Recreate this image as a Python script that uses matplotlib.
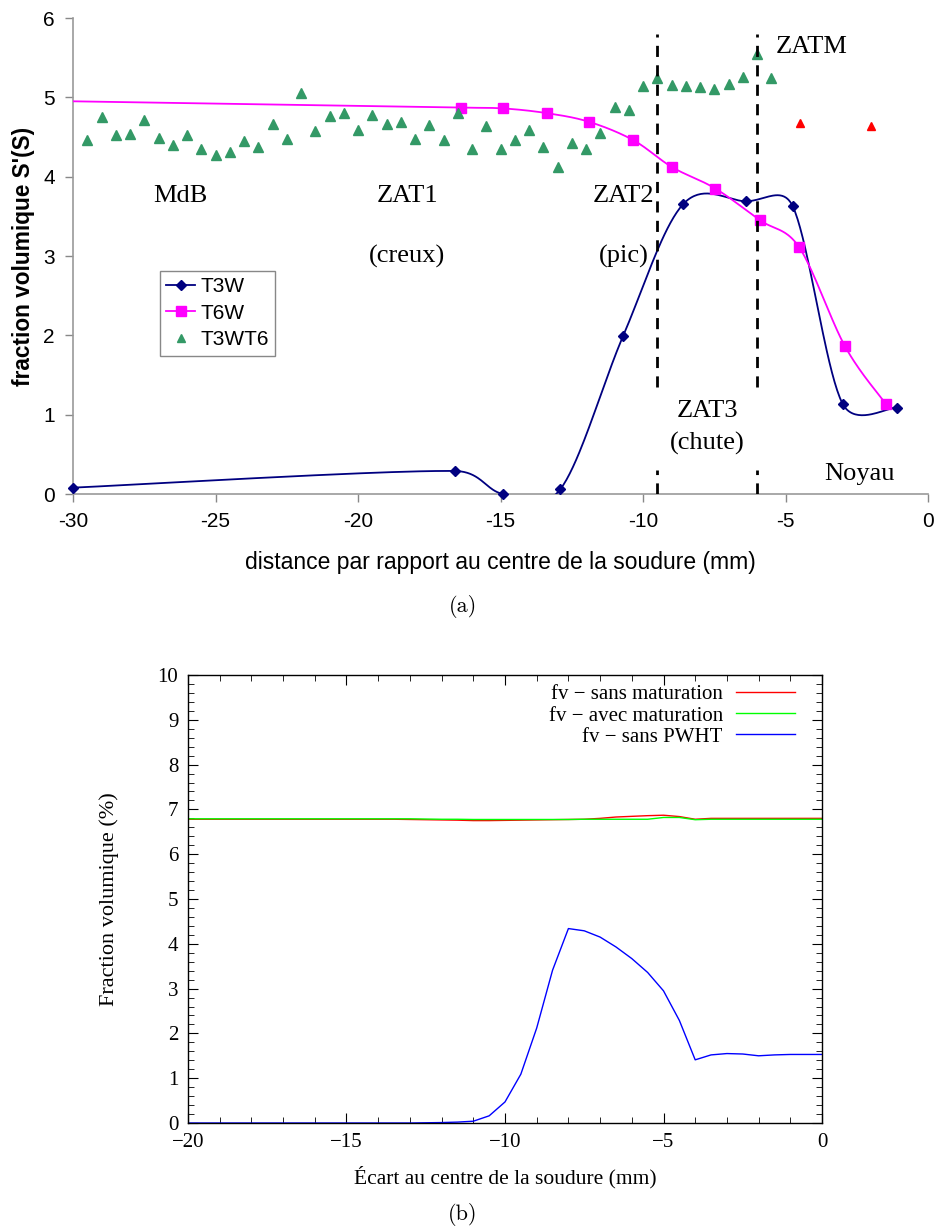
import numpy as np
import matplotlib
matplotlib.use("Agg")
import matplotlib.pyplot as plt
from matplotlib.lines import Line2D

# ---------------- data: chart (a) ----------------
t3w_x = [-30, -16.6, -14.9, -12.9, -10.7, -8.6, -6.4, -4.75, -3.0, -1.1]
t3w_y = [0.08, 0.29, 0.0, 0.06, 1.99, 3.65, 3.69, 3.63, 1.14, 1.09]

t6w_line_x = [-30, -16.4, -14.9, -13.36, -11.88, -10.34, -8.98, -7.46, -5.89, -4.52, -2.91, -1.49]
t6w_line_y = [4.95, 4.87, 4.86, 4.80, 4.69, 4.46, 4.12, 3.85, 3.45, 3.11, 1.86, 1.14]

t3wt6_x = [-29.5, -29.0, -28.5, -28.0, -27.5, -27.0, -26.5, -26.0, -25.5, -25.0,
           -24.5, -24.0, -23.5, -23.0, -22.5, -22.0, -21.5, -21.0, -20.5, -20.0,
           -19.5, -19.0, -18.5, -18.0, -17.5, -17.0, -16.5, -16.0, -15.5, -15.0,
           -14.5, -14.0, -13.5, -13.0, -12.5, -12.0, -11.5, -11.0, -10.5, -10.0,
           -9.5, -9.0, -8.5, -8.0, -7.5, -7.0, -6.5, -6.0, -5.5]
t3wt6_y = [4.46, 4.75, 4.53, 4.54, 4.72, 4.49, 4.40, 4.53, 4.35, 4.27,
           4.31, 4.45, 4.37, 4.67, 4.47, 5.06, 4.58, 4.76, 4.80, 4.59,
           4.78, 4.66, 4.69, 4.47, 4.65, 4.46, 4.80, 4.35, 4.64, 4.35,
           4.46, 4.59, 4.38, 4.12, 4.42, 4.35, 4.55, 4.88, 4.84, 5.14,
           5.24, 5.16, 5.14, 5.13, 5.10, 5.17, 5.26, 5.54, 5.25]

red_x = [-4.5, -2.0]
red_y = [4.68, 4.64]

zone_x = [-9.5, -6.0]

a_xticks = [-30, -25, -20, -15, -10, -5, 0]
a_xticklabels = ["-30", "-25", "-20", "-15", "-10", "-5", "0"]

# ---------------- data: chart (b) ----------------
b_x = [-20, -19.5, -19, -18.5, -18, -17.5, -17, -16.5, -16, -15.5, -15, -14.5, -14,
       -13.5, -13, -12.5, -12, -11.5, -11, -10.5, -10, -9.5, -9, -8.5, -8, -7.5,
       -7, -6.5, -6, -5.5, -5, -4.5, -4, -3.5, -3, -2.5, -2, -1.5, -1, -0.5, 0]
fv_sans_mat = [6.78, 6.78, 6.78, 6.78, 6.78, 6.78, 6.78, 6.78, 6.78, 6.78, 6.78, 6.78, 6.78,
               6.78, 6.775, 6.77, 6.765, 6.76, 6.75, 6.75, 6.755, 6.76, 6.765, 6.77, 6.775, 6.78,
               6.80, 6.83, 6.845, 6.86, 6.87, 6.84, 6.78, 6.80, 6.80, 6.80, 6.80, 6.80, 6.80, 6.80, 6.80]
fv_avec_mat = [6.79, 6.79, 6.79, 6.79, 6.79, 6.79, 6.79, 6.79, 6.79, 6.79, 6.79, 6.79, 6.79,
               6.79, 6.79, 6.785, 6.78, 6.78, 6.775, 6.775, 6.775, 6.775, 6.775, 6.775, 6.775, 6.78,
               6.78, 6.78, 6.78, 6.78, 6.82, 6.82, 6.77, 6.78, 6.78, 6.78, 6.78, 6.78, 6.78, 6.78, 6.78]
fv_sans_pwht = [0, 0, 0, 0, 0, 0, 0, 0, 0, 0, 0, 0, 0,
                0, 0, 0.005, 0.01, 0.02, 0.04, 0.16, 0.47, 1.09, 2.12, 3.41, 4.34, 4.29,
                4.15, 3.93, 3.67, 3.36, 2.95, 2.29, 1.41, 1.52, 1.55, 1.54, 1.50, 1.52, 1.53, 1.53, 1.53]
b_xticks = [-20, -15, -10, -5, 0]
b_xticklabels = ["\u221220", "\u221215", "\u221210", "\u22125", "0"]


def smooth(x, y, sx, sy, n=40, k=0.5):
    """Excel-like smoothed line (cubic Bezier, Catmull-Rom tangents)."""
    P = np.column_stack([np.asarray(x, float) * sx, np.asarray(y, float) * sy])
    m = len(P)
    pts = []
    tt = np.linspace(0, 1, n)[:, None]
    for i in range(m - 1):
        p0 = P[i - 1] if i > 0 else P[i]
        p1, p2 = P[i], P[i + 1]
        p3 = P[i + 2] if i + 2 < m else P[i + 1]
        seg = np.linalg.norm(p2 - p1)
        t1 = (p2 - p0) / 6.0
        t2 = (p3 - p1) / 6.0
        for t in (t1, t2):
            L = np.linalg.norm(t)
            if L > k * seg:
                t *= k * seg / L
        c1, c2 = p1 + t1, p2 - t2
        B = (1 - tt) ** 3 * p1 + 3 * (1 - tt) ** 2 * tt * c1 + 3 * (1 - tt) * tt ** 2 * c2 + tt ** 3 * p2
        pts.append(B if i == 0 else B[1:])
    pts = np.vstack(pts)
    return pts[:, 0] / sx, pts[:, 1] / sy


fig = plt.figure(figsize=(9.36, 12.30), dpi=100)

# ================= chart (a) =================
ax = fig.add_axes([73 / 936, 1 - 494 / 1230, 855 / 936, 476 / 1230])
SX, SY = 855 / 30, 476 / 6

navy = "#000080"
mag = "#FF00FF"
green = "#339966"

sx_, sy_ = smooth(t3w_x, t3w_y, SX, SY)
ax.plot(sx_, sy_, color=navy, lw=1.3, zorder=3)
ax.plot(t3w_x, t3w_y, ls="none", marker="D", ms=5, color=navy, zorder=4, clip_on=False)

sx6, sy6 = smooth(t6w_line_x, t6w_line_y, SX, SY)
ax.plot(sx6, sy6, color=mag, lw=1.3, zorder=3)
ax.plot(t6w_line_x[1:], t6w_line_y[1:], ls="none", marker="s", ms=7, color=mag, zorder=4)

ax.plot(t3wt6_x, t3wt6_y, ls="none", marker="^", ms=7, color=green, zorder=4)
ax.plot(red_x, red_y, ls="none", marker="^", ms=6, color="#FF0000", zorder=4)

ax.vlines(zone_x, 1.35, 5.8, colors="black", linestyles=(0, (4, 3)), lw=2, zorder=5)
ax.vlines(zone_x, 0, 0.3, colors="black", linestyles=(0, (4, 3)), lw=2, zorder=5)

ax.set_xlim(-30, 0)
ax.set_ylim(0, 6)
ax.set_xticks(a_xticks)
ax.set_xticklabels(a_xticklabels)
ax.set_yticks(range(0, 7))
for s in ("top", "right"):
    ax.spines[s].set_visible(False)
for s in ("left", "bottom"):
    ax.spines[s].set_color("#999999")
    ax.spines[s].set_linewidth(1.2)
ax.tick_params(direction="out", length=6, color="#888888", width=1,
               labelsize=15, pad=7)
for lab in ax.get_xticklabels() + ax.get_yticklabels():
    lab.set_fontfamily("Liberation Sans")

ax.text(-0.058, 0.5, "fraction volumique S'(S)", transform=ax.transAxes, rotation=90,
        ha="center", va="center", fontsize=16.3, fontweight="bold", family="Liberation Sans")
ax.text(0.5, -0.143, "distance par rapport au centre de la soudure (mm)", transform=ax.transAxes,
        ha="center", va="center", fontsize=16.5, family="Liberation Sans")

serif = dict(family="Liberation Serif", fontsize=19, ha="center", va="center")
ax.text(-26.25, 3.76, "MdB", **serif)
ax.text(-18.28, 3.76, "ZAT1", **serif)
ax.text(-18.28, 3.0, "(creux)", **serif)
ax.text(-10.67, 3.76, "ZAT2", **serif)
ax.text(-10.67, 3.0, "(pic)", **serif)
ax.text(-7.75, 1.05, "ZAT3", **serif)
ax.text(-7.75, 0.64, "(chute)", **serif)
ax.text(-4.1, 5.64, "ZATM", **serif)
ax.text(-2.42, 0.25, "Noyau", **serif)

handles = [
    Line2D([], [], color=navy, marker="D", ms=5, lw=1.3),
    Line2D([], [], color=mag, marker="s", ms=7, lw=1.3),
    Line2D([], [], color=green, marker="^", ms=6, ls="none"),
]
leg = ax.legend(handles, ["T3W", "T6W", "T3WT6"], loc="upper left",
                bbox_to_anchor=((160 - 73) / 855, (494 - 271) / 476), borderaxespad=0,
                fancybox=False, edgecolor="#888888", framealpha=1,
                prop={"family": "Liberation Sans", "size": 15},
                handlelength=1.4, handletextpad=0.25, labelspacing=0.36, borderpad=0.3)
leg.get_frame().set_linewidth(1.0)

fig.text(463 / 936, 1 - 607 / 1230, "(a)", ha="center", va="center", fontsize=16,
         family=["cmr10", "DejaVu Serif"])

# ================= chart (b) =================
ax2 = fig.add_axes([188 / 936, 1 - 1123 / 1230, 634 / 936, 448 / 1230])
ax2.plot(b_x, fv_sans_mat, color="#FF0000", lw=1.0, label="fv − sans maturation")
ax2.plot(b_x, fv_avec_mat, color="#00FF00", lw=1.0, label="fv − avec maturation")
ax2.plot(b_x, fv_sans_pwht, color="#0000FF", lw=1.0, label="fv − sans PWHT")
ax2.set_xlim(-20, 0)
ax2.set_ylim(0, 10)
ax2.set_xticks(b_xticks)
ax2.set_xticklabels(b_xticklabels)
ax2.set_yticks(range(0, 11))
ax2.set_xticks(np.arange(-20, 0.1, 1), minor=True)
ax2.set_yticks(np.arange(0, 10.01, 0.2), minor=True)
ax2.tick_params(which="both", direction="in", top=True, right=True, color="black")
ax2.tick_params(which="major", length=7, width=0.8, labelsize=15, pad=7)
ax2.tick_params(which="minor", length=4, width=0.6)
for lab in ax2.get_xticklabels() + ax2.get_yticklabels():
    lab.set_fontfamily("Liberation Serif")
for s in ax2.spines.values():
    s.set_linewidth(1.0)

ax2.text(-0.125, 0.5, "Fraction volumique (%)", transform=ax2.transAxes, rotation=90,
         ha="center", va="center", fontsize=16, family="Liberation Serif")
ax2.text(0.5, -0.12, "Écart au centre de la soudure (mm)", transform=ax2.transAxes,
         ha="center", va="center", fontsize=15.5, family="Liberation Serif")
ax2.legend(loc="upper right", bbox_to_anchor=(0.970, 0.997), frameon=False, markerfirst=False,
           prop={"family": "Liberation Serif", "size": 15}, handlelength=2.8,
           handletextpad=0.65, labelspacing=0.08, borderaxespad=0)

fig.text(463 / 936, 1 - 1215 / 1230, "(b)", ha="center", va="center", fontsize=16,
         family=["cmr10", "DejaVu Serif"])

fig.savefig("out.png", dpi=100)
